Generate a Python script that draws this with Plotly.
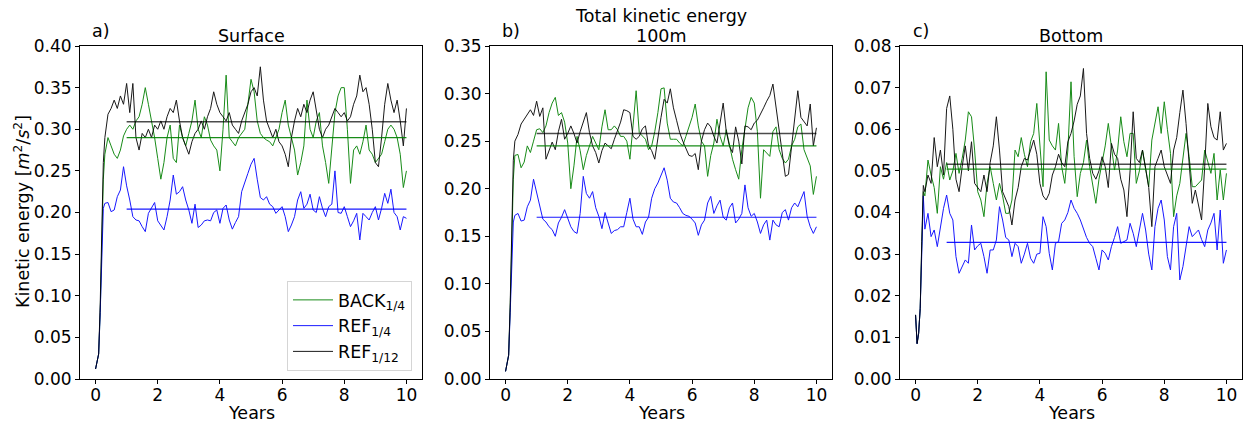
import numpy as np
import plotly.graph_objects as go

# ---------------- data ----------------
T_RAMP = [0.0, 0.05, 0.1, 0.15, 0.2, 0.25, 0.3]
T_MAIN = list(np.round(np.arange(0.4, 10.001, 0.1), 2))
YEARS = T_RAMP + T_MAIN

MEAN_START, MEAN_END = 1.0, 10.0

# Panel a) Surface
surf_back = [0.012, 0.02, 0.03, 0.08, 0.17, 0.24, 0.27,
             0.29, 0.28, 0.27, 0.265, 0.275, 0.292,
             0.3, 0.305, 0.3, 0.31, 0.315, 0.33, 0.35, 0.33, 0.31, 0.29,
             0.265, 0.24, 0.26, 0.29, 0.305, 0.265, 0.26, 0.305, 0.29, 0.28,
             0.295, 0.31, 0.335, 0.3, 0.29, 0.315, 0.305, 0.287, 0.28, 0.275,
             0.25, 0.3, 0.365, 0.29, 0.285, 0.28, 0.29, 0.295, 0.3, 0.33,
             0.36, 0.345, 0.31, 0.295, 0.29, 0.287, 0.285, 0.28, 0.29, 0.3,
             0.32, 0.335, 0.305, 0.29, 0.275, 0.245, 0.26, 0.28, 0.335, 0.3,
             0.29, 0.31, 0.32, 0.28, 0.26, 0.235, 0.28, 0.32, 0.34, 0.35,
             0.35, 0.3, 0.235, 0.275, 0.28, 0.27, 0.285, 0.305, 0.275, 0.27,
             0.26, 0.265, 0.27, 0.285, 0.3, 0.305, 0.3, 0.29, 0.27, 0.23,
             0.25]
surf_ref4 = [0.012, 0.02, 0.03, 0.08, 0.16, 0.205, 0.211,
             0.212, 0.201, 0.203, 0.219, 0.227, 0.255,
             0.232, 0.215, 0.195, 0.191, 0.19, 0.183, 0.177, 0.199, 0.205, 0.212,
             0.19, 0.185, 0.179, 0.195, 0.215, 0.245, 0.222, 0.225, 0.231, 0.215,
             0.203, 0.187, 0.21, 0.182, 0.185, 0.19, 0.191, 0.19, 0.2, 0.203,
             0.187, 0.205, 0.209, 0.191, 0.18, 0.188, 0.195, 0.225, 0.235, 0.247,
             0.258, 0.265, 0.24, 0.218, 0.215, 0.219, 0.21, 0.207, 0.199, 0.203,
             0.207, 0.195, 0.177, 0.185, 0.195, 0.215, 0.225, 0.205, 0.21, 0.222,
             0.203, 0.2, 0.219, 0.205, 0.195, 0.207, 0.21, 0.25, 0.2, 0.199,
             0.207, 0.195, 0.183, 0.19, 0.199, 0.167, 0.199, 0.195, 0.191, 0.2,
             0.207, 0.191, 0.205, 0.223, 0.211, 0.228, 0.2, 0.195, 0.179, 0.195,
             0.193]
surf_ref12 = [0.012, 0.02, 0.03, 0.09, 0.19, 0.26, 0.29,
              0.318, 0.325, 0.335, 0.325, 0.34, 0.33,
              0.355, 0.32, 0.355, 0.29, 0.275, 0.295, 0.29, 0.3, 0.29, 0.305,
              0.3, 0.31, 0.3, 0.315, 0.325, 0.32, 0.335, 0.31, 0.29, 0.28,
              0.27, 0.285, 0.295, 0.3, 0.31, 0.3, 0.315, 0.325, 0.345, 0.33,
              0.32, 0.315, 0.31, 0.32, 0.305, 0.3, 0.295, 0.31, 0.32, 0.33,
              0.345, 0.35, 0.34, 0.375, 0.335, 0.31, 0.3, 0.29, 0.3, 0.285,
              0.28, 0.27, 0.255, 0.29, 0.31, 0.325, 0.315, 0.33, 0.32, 0.335,
              0.345, 0.32, 0.3, 0.29, 0.3, 0.305, 0.315, 0.325, 0.32, 0.315,
              0.32, 0.31, 0.315, 0.33, 0.34, 0.365, 0.345, 0.35, 0.33, 0.3,
              0.26, 0.255, 0.29, 0.33, 0.355, 0.335, 0.32, 0.335, 0.31, 0.28,
              0.325]

# Panel b) 100m
m100_back = [0.008, 0.015, 0.025, 0.075, 0.16, 0.21, 0.235,
             0.236, 0.222, 0.228, 0.245, 0.238, 0.25,
             0.262, 0.263, 0.259, 0.266, 0.28, 0.29, 0.296, 0.277, 0.28, 0.27,
             0.248, 0.2, 0.224, 0.255, 0.24, 0.22, 0.235, 0.245, 0.255, 0.248,
             0.241, 0.265, 0.283, 0.262, 0.262, 0.266, 0.262, 0.255, 0.255, 0.25,
             0.231, 0.266, 0.303, 0.259, 0.255, 0.252, 0.241, 0.245, 0.26, 0.28,
             0.305, 0.306, 0.269, 0.252, 0.252, 0.252, 0.248, 0.245, 0.255, 0.266,
             0.275, 0.289, 0.266, 0.25, 0.245, 0.213, 0.235, 0.248, 0.273, 0.255,
             0.245, 0.262, 0.245, 0.231, 0.22, 0.21, 0.241, 0.262, 0.285, 0.296,
             0.29, 0.26, 0.19, 0.241, 0.238, 0.234, 0.26, 0.265, 0.241, 0.232,
             0.227, 0.231, 0.245, 0.252, 0.265, 0.268, 0.241, 0.232, 0.224, 0.194,
             0.213]
m100_ref4 = [0.008, 0.015, 0.025, 0.07, 0.13, 0.165, 0.172,
             0.174, 0.166, 0.167, 0.181, 0.188, 0.21,
             0.196, 0.182, 0.168, 0.165, 0.16, 0.157, 0.15, 0.164, 0.17, 0.178,
             0.17, 0.16, 0.155, 0.153, 0.174, 0.213, 0.195, 0.19, 0.197, 0.18,
             0.171, 0.158, 0.175, 0.165, 0.153, 0.156, 0.157, 0.16, 0.16, 0.175,
             0.19, 0.168, 0.16, 0.16, 0.152, 0.165, 0.17, 0.19, 0.2, 0.206,
             0.215, 0.222, 0.209, 0.19, 0.186, 0.185, 0.18, 0.174, 0.172, 0.171,
             0.168, 0.164, 0.151, 0.162, 0.167, 0.185, 0.192, 0.174, 0.182, 0.188,
             0.17, 0.167, 0.18, 0.185, 0.164, 0.168, 0.174, 0.204, 0.18, 0.171,
             0.174, 0.165, 0.153, 0.162, 0.167, 0.146, 0.167, 0.162, 0.16, 0.175,
             0.178, 0.167, 0.18, 0.185, 0.181, 0.19, 0.197, 0.171, 0.16, 0.153,
             0.16]
m100_ref12 = [0.008, 0.015, 0.025, 0.08, 0.17, 0.23, 0.25,
              0.257, 0.268, 0.273, 0.279, 0.283, 0.277,
              0.292, 0.276, 0.285, 0.231, 0.24, 0.249, 0.241, 0.26, 0.273, 0.252,
              0.258, 0.266, 0.258, 0.248, 0.26, 0.27, 0.28, 0.259, 0.245, 0.238,
              0.227, 0.24, 0.248, 0.245, 0.242, 0.252, 0.26, 0.27, 0.283, 0.282,
              0.28, 0.255, 0.252, 0.255, 0.263, 0.266, 0.245, 0.24, 0.231, 0.255,
              0.275, 0.294, 0.29, 0.305, 0.285, 0.272, 0.259, 0.25, 0.242, 0.235,
              0.234, 0.237, 0.22, 0.25, 0.262, 0.269, 0.265, 0.255, 0.248, 0.27,
              0.29, 0.26, 0.245, 0.238, 0.265, 0.25, 0.226, 0.266, 0.265, 0.262,
              0.269, 0.272, 0.278, 0.285, 0.292, 0.298, 0.31, 0.285, 0.262, 0.235,
              0.213, 0.215, 0.245, 0.28, 0.303, 0.275, 0.27, 0.266, 0.289, 0.245,
              0.264]

# Panel c) Bottom
bot_back = [0.0154, 0.0085, 0.011, 0.017, 0.032, 0.045, 0.044,
            0.0526, 0.049, 0.046, 0.0398, 0.051, 0.048,
            0.052, 0.0478, 0.05, 0.0542, 0.0494, 0.053, 0.0574, 0.0642, 0.063, 0.055,
            0.045, 0.043, 0.039, 0.047, 0.051, 0.047, 0.043, 0.047, 0.044, 0.0398,
            0.0398, 0.043, 0.055, 0.0534, 0.058, 0.054, 0.051, 0.057, 0.059, 0.0662,
            0.055, 0.0462, 0.0738, 0.0574, 0.056, 0.055, 0.0614, 0.051, 0.047, 0.055,
            0.0714, 0.0534, 0.0438, 0.0494, 0.052, 0.0574, 0.051, 0.047, 0.0422, 0.048,
            0.0518, 0.056, 0.0614, 0.0558, 0.0502, 0.055, 0.063, 0.057, 0.0534, 0.059,
            0.059, 0.047, 0.05, 0.055, 0.05, 0.0462, 0.0574, 0.061, 0.0654, 0.059,
            0.0666, 0.06, 0.0542, 0.039, 0.044, 0.047, 0.0526, 0.059, 0.0534, 0.0462,
            0.0462, 0.047, 0.0478, 0.055, 0.052, 0.0494, 0.0542, 0.043, 0.0502, 0.043,
            0.0494]
bot_ref4 = [0.0154, 0.0085, 0.011, 0.017, 0.03, 0.044, 0.036,
            0.0398, 0.0342, 0.0358, 0.0318, 0.037, 0.041,
            0.0442, 0.0398, 0.0382, 0.0294, 0.0254, 0.027, 0.0286, 0.0278, 0.037, 0.031,
            0.032, 0.0326, 0.0294, 0.0254, 0.031, 0.031, 0.0334, 0.0414, 0.0382, 0.034,
            0.0334, 0.0294, 0.0326, 0.0318, 0.0278, 0.03, 0.0326, 0.029, 0.0278, 0.03,
            0.0302, 0.039, 0.0366, 0.0302, 0.0262, 0.0326, 0.033, 0.0374, 0.0382, 0.04,
            0.043, 0.041, 0.0398, 0.0382, 0.0358, 0.034, 0.0326, 0.0318, 0.029, 0.0262,
            0.031, 0.0302, 0.0286, 0.0318, 0.034, 0.0366, 0.0326, 0.033, 0.0334, 0.0374,
            0.035, 0.0318, 0.036, 0.0398, 0.0358, 0.03, 0.0262, 0.0366, 0.041, 0.043,
            0.0382, 0.0294, 0.0262, 0.0366, 0.0398, 0.0238, 0.027, 0.0318, 0.0366, 0.0342,
            0.035, 0.0358, 0.0335, 0.0318, 0.0358, 0.0375, 0.0398, 0.031, 0.0406, 0.0278,
            0.031]
bot_ref12 = [0.0154, 0.0085, 0.011, 0.017, 0.033, 0.0465, 0.045,
             0.049, 0.047, 0.058, 0.051, 0.055, 0.049,
             0.065, 0.068, 0.06, 0.048, 0.045, 0.051, 0.056, 0.05, 0.057, 0.047,
             0.046, 0.045, 0.049, 0.045, 0.052, 0.056, 0.063, 0.055, 0.045, 0.043,
             0.0414, 0.037, 0.043, 0.046, 0.051, 0.053, 0.0526, 0.055, 0.0574, 0.054,
             0.047, 0.044, 0.043, 0.0446, 0.049, 0.051, 0.054, 0.052, 0.051, 0.057,
             0.059, 0.062, 0.066, 0.068, 0.0746, 0.059, 0.053, 0.0494, 0.048, 0.05,
             0.0534, 0.051, 0.046, 0.0566, 0.054, 0.053, 0.048, 0.0454, 0.039, 0.05,
             0.0642, 0.053, 0.052, 0.055, 0.05, 0.046, 0.0366, 0.051, 0.053, 0.055,
             0.051, 0.049, 0.047, 0.055, 0.058, 0.064, 0.0694, 0.0614, 0.051, 0.0422,
             0.0454, 0.0414, 0.0382, 0.051, 0.0662, 0.0606, 0.058, 0.0574, 0.0642, 0.055,
             0.0566]

MEANS = {
    "a": {"back": 0.290, "ref4": 0.204, "ref12": 0.309},
    "b": {"back": 0.245, "ref4": 0.170, "ref12": 0.258},
    "c": {"back": 0.0504, "ref4": 0.0328, "ref12": 0.0516},
}

PANEL_TITLES = ["Surface", "100m", "Bottom"]
PANEL_LETTERS = ["a)", "b)", "c)"]
SUPTITLE = "Total kinetic energy"
Y_MAX = [0.40, 0.35, 0.08]
Y_DTICK = [0.05, 0.05, 0.01]
X_TICKS = [0, 2, 4, 6, 8, 10]
NAMES = ["BACK<sub>1/4</sub>", "REF<sub>1/4</sub>", "REF<sub>1/12</sub>"]
COLORS = ["#008000", "#0000ff", "#000000"]

# ---------------- figure ----------------
W, H = 1247, 422
FONT = "DejaVu Sans"
FS_TICK = 17
FS = 17.5


def tfont(size=FS):
    return dict(family=FONT, size=size, color="black")


panels = [
    ("a", [surf_back, surf_ref4, surf_ref12]),
    ("b", [m100_back, m100_ref4, m100_ref12]),
    ("c", [bot_back, bot_ref4, bot_ref12]),
]
x_px = [(80, 422), (490, 832), (900, 1242)]
y_px = (46, 379)
ydom = [1 - y_px[1] / H, 1 - y_px[0] / H]

fig = go.Figure()
layout = dict(
    width=W, height=H, margin=dict(l=0, r=0, t=0, b=0, autoexpand=False),
    paper_bgcolor="white", plot_bgcolor="white",
    font=tfont(),
    showlegend=True,
    legend=dict(x=412 / W, y=1 - 371 / H, xanchor="right", yanchor="bottom",
                bgcolor="rgba(255,255,255,0.9)", bordercolor="#d5d5d5", borderwidth=1,
                font=tfont(), tracegroupgap=0, itemwidth=40),
)
annotations = []

for i, (key, series) in enumerate(panels):
    xa = "x" if i == 0 else f"x{i+1}"
    ya = "y" if i == 0 else f"y{i+1}"
    axn = "" if i == 0 else str(i + 1)
    for j, (vals, name, col) in enumerate(zip(series, NAMES, COLORS)):
        fig.add_trace(go.Scatter(
            x=YEARS, y=vals, mode="lines", name=name, xaxis=xa, yaxis=ya,
            line=dict(color=col, width=1), opacity=0.9,
            showlegend=(i == 0), legendgroup=name))
    for j, (k, col) in enumerate(zip(["back", "ref4", "ref12"], COLORS)):
        m = MEANS[key][k]
        fig.add_trace(go.Scatter(
            x=[MEAN_START, MEAN_END], y=[m, m], mode="lines", xaxis=xa, yaxis=ya,
            line=dict(color=col, width=1.5 if k == "ref12" else 1.2),
            opacity=0.7 if k == "ref12" else 0.9,
            showlegend=False, hoverinfo="skip"))
    x0, x1 = x_px[i]
    common = dict(showline=True, linecolor="black", linewidth=1, mirror=True,
                  ticks="outside", ticklen=4, tickwidth=1, tickcolor="black",
                  showgrid=False, zeroline=False, automargin=False,
                  tickfont=tfont(FS_TICK))
    layout["xaxis" + axn] = dict(domain=[x0 / W, x1 / W], range=[-0.5, 10.5],
                                 tickvals=X_TICKS, anchor=ya, **common)
    layout["yaxis" + axn] = dict(domain=ydom, range=[0, Y_MAX[i]], dtick=Y_DTICK[i],
                                 tick0=0, tickformat=".2f", anchor=xa, **common)
    cx = (x0 + x1) / 2 / W
    annotations.append(dict(text=PANEL_TITLES[i], x=cx, y=1 - 36 / H, xref="paper",
                            yref="paper", xanchor="center", yanchor="middle",
                            showarrow=False, font=tfont()))
    annotations.append(dict(text=PANEL_LETTERS[i], x=(x0 + 21) / W, y=1 - 31 / H,
                            xref="paper", yref="paper", xanchor="center",
                            yanchor="middle", showarrow=False, font=tfont()))
    annotations.append(dict(text="Years", x=cx, y=1 - 412.5 / H, xref="paper",
                            yref="paper", xanchor="center", yanchor="middle",
                            showarrow=False, font=tfont()))

annotations.append(dict(text=SUPTITLE, x=(490 + 832) / 2 / W, y=1 - 16 / H,
                        xref="paper", yref="paper", xanchor="center", yanchor="middle",
                        showarrow=False, font=tfont()))
annotations.append(dict(text="Kinetic energy [<i>m</i><sup>2</sup>/<i>s</i><sup>2</sup>]",
                        x=22 / W, y=1 - 212 / H, xref="paper", yref="paper",
                        xanchor="center", yanchor="middle", textangle=-90,
                        showarrow=False, font=tfont()))
layout["annotations"] = annotations
fig.update_layout(**layout)
for ax in ["xaxis", "xaxis2", "xaxis3"]:
    fig.layout[ax].ticklabelstandoff = -3
fig.write_html("out.html")
